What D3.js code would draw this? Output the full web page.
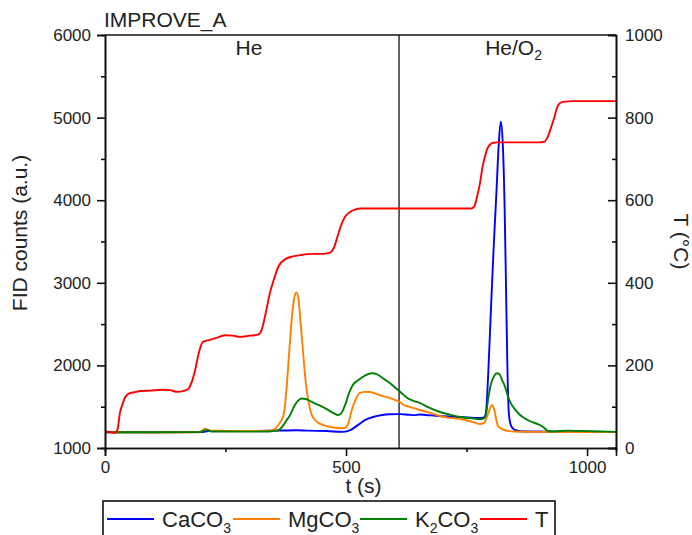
<!DOCTYPE html>
<html>
<head>
<meta charset="utf-8">
<script src="https://cdn.jsdelivr.net/npm/d3@7"></script>
<style>
  body { margin: 0; background: #fff; }
  svg { display: block; font-family: "Liberation Sans", Arial, sans-serif; }
</style>
</head>
<body>
<svg id="chart" width="692" height="535"></svg>
<script>
// ---------- data ----------
const seriesNames = ["CaCO3", "MgCO3", "K2CO3", "T"];
const seriesColors = ["#0000ff", "#ff8000", "#008000", "#ff0000"];

const caTime = [0,100,200,215,300,350,398,420,460,494,510,525,540,556,575,591,612,630,640,653,665,695,737,778,786,790,795,800,806,812,817,821,825,829,832,835,838,843,850,870,1060];
const caVals = [1190,1190,1192,1205,1205,1210,1215,1210,1205,1195,1220,1280,1340,1375,1400,1408,1410,1402,1398,1405,1400,1387,1375,1363,1370,1420,1900,2600,3400,4100,4700,4950,4700,3900,2900,1900,1400,1260,1220,1200,1195];

const mgTime = [0,100,195,202,207,212,220,300,330,346,356,362,367,372,377,382,388,393,397,401,406,411,416,421,425,429,437,445,453,465,478,490,498,505,510,514,520,529,540,550,565,575,591,602,612,620,630,653,675,695,715,737,760,778,786,792,798,803,808,812,815,822,830,850,900,1060];
const mgVals = [1190,1188,1190,1210,1235,1225,1210,1205,1205,1215,1250,1300,1345,1450,1750,2150,2600,2830,2880,2820,2500,2150,1823,1600,1480,1400,1330,1295,1278,1258,1245,1242,1245,1300,1420,1496,1590,1666,1680,1678,1650,1630,1605,1580,1557,1520,1500,1460,1425,1387,1365,1351,1320,1290,1300,1370,1470,1520,1450,1330,1270,1235,1215,1200,1195,1192];

const kTime = [0,100,195,205,212,220,300,340,357,368,376,384,392,400,408,418,430,445,460,475,483,490,498,506,514,525,540,554,565,575,590,602,612,620,627,640,653,670,695,715,737,760,778,786,790,795,800,807,813,818,824,830,836,842,850,861,880,902,912,919,930,960,990,1060];
const kVals = [1190,1190,1192,1210,1220,1200,1198,1200,1210,1260,1330,1400,1500,1570,1600,1590,1555,1515,1470,1420,1400,1420,1520,1660,1763,1820,1880,1905,1890,1850,1790,1730,1680,1640,1605,1570,1545,1495,1436,1405,1375,1360,1350,1360,1400,1600,1760,1870,1905,1895,1820,1740,1620,1540,1470,1400,1330,1278,1240,1206,1200,1210,1205,1195];

const tTime = [0,10,20,26,31,36,41,46,52,62,73,93,120,135,150,165,172,180,187,195,203,218,235,249,265,280,300,315,322,326,334,342,350,360,375,390,405,430,450,467,475,483,490,498,508,518,530,600,700,760,766,772,778,783,788,793,799,806,813,850,900,912,918,925,932,937,942,950,970,1060];
const tVals = [40,39,36,45,85,105,121,129,133,135,138,139,141,140,136,139,142,160,189,232,257,262,268,273,272,269,272,274,278,290,330,375,407,440,458,464,467,470,470,473,485,515,540,560,571,577,580,580,580,580,585,610,642,680,705,725,735,739,740,740,740,742,752,775,800,822,833,838,840,840];

const xTicks = [0, 500, 1000];
const xMinorTicks = [250, 750];
const yLeftTicks = [1000, 2000, 3000, 4000, 5000, 6000];
const yLeftMinor = [1500, 2500, 3500, 4500, 5500];
const yRightTicks = [0, 200, 400, 600, 800, 1000];
const yRightMinor = [100, 300, 500, 700, 900];
const switchTime = 610;

// ---------- layout ----------
const svg = d3.select("#chart");
const L = 105, R = 616, T = 35, B = 448;

const x = d3.scaleLinear().domain([0, 1060]).range([L, R]);
const yL = d3.scaleLinear().domain([1000, 6000]).range([B, T]);
const yR = d3.scaleLinear().domain([0, 1000]).range([B, T]);

svg.append("defs").append("clipPath").attr("id", "clip")
  .append("rect").attr("x", L).attr("y", T).attr("width", R - L).attr("height", B - T);

// vertical switch line
svg.append("line")
  .attr("x1", x(switchTime)).attr("x2", x(switchTime))
  .attr("y1", T).attr("y2", B)
  .attr("stroke", "#222").attr("stroke-width", 1.4);

// series
const mk = (times, vals) => times.map((t, i) => [t, vals[i]]);
const series = [
  {data: mk(caTime, caVals), y: yL},
  {data: mk(mgTime, mgVals), y: yL},
  {data: mk(kTime, kVals), y: yL},
  {data: mk(tTime, tVals), y: yR}
];
const g = svg.append("g").attr("clip-path", "url(#clip)");
series.forEach((s, i) => {
  const line = d3.line().x(d => x(d[0])).y(d => s.y(d[1])).curve(d3.curveMonotoneX);
  g.append("path").datum(s.data)
    .attr("d", line).attr("fill", "none")
    .attr("stroke", seriesColors[i]).attr("stroke-width", 1.9)
    .attr("stroke-linejoin", "round");
});

// axes
function styleAxis(sel) {
  sel.selectAll(".domain").attr("stroke", "#111").attr("stroke-width", 1.6);
  sel.selectAll(".tick line").attr("stroke", "#111").attr("stroke-width", 1.6);
  sel.selectAll("text").attr("font-size", 17).attr("fill", "#222")
     .attr("font-family", '"Liberation Sans", Arial, sans-serif');
}
// bottom
svg.append("g").attr("transform", `translate(0,${B})`)
  .call(d3.axisBottom(x).tickValues(xMinorTicks).tickSize(4).tickFormat(""))
  .call(styleAxis);
svg.append("g").attr("transform", `translate(0,${B})`)
  .call(d3.axisBottom(x).tickValues(xTicks).tickSize(8).tickPadding(5).tickFormat(d3.format("d")))
  .call(styleAxis);
// top (line only)
svg.append("line").attr("x1", L).attr("x2", R).attr("y1", T).attr("y2", T)
  .attr("stroke", "#111").attr("stroke-width", 1.6);
// left
svg.append("g").attr("transform", `translate(${L},0)`)
  .call(d3.axisLeft(yL).tickValues(yLeftMinor).tickSize(4).tickFormat(""))
  .call(styleAxis);
svg.append("g").attr("transform", `translate(${L},0)`)
  .call(d3.axisLeft(yL).tickValues(yLeftTicks).tickSize(8).tickPadding(6).tickFormat(d3.format("d")))
  .call(styleAxis);
// right (ticks inward)
svg.append("g").attr("transform", `translate(${R},0)`)
  .call(d3.axisRight(yR).tickValues(yRightMinor).tickSize(-4).tickFormat(""))
  .call(styleAxis);
svg.append("g").attr("transform", `translate(${R},0)`)
  .call(d3.axisRight(yR).tickValues(yRightTicks).tickSize(-8).tickPadding(9).tickFormat(d3.format("d")))
  .call(styleAxis);

// titles
const txt = (xx, yy, size) => svg.append("text").attr("x", xx).attr("y", yy)
  .attr("font-size", size).attr("fill", "#222");
txt(104, 27, 21).text("IMPROVE_A");
txt(x(switchTime / 2) - 3, 55, 21).attr("text-anchor", "middle").text("He");
{
  const t = txt(x((switchTime + 1060) / 2) + 6, 55, 21).attr("text-anchor", "middle");
  t.append("tspan").text("He/O");
  t.append("tspan").attr("font-size", 14).attr("dy", 5).text("2");
}
txt((L + R) / 2 + 3, 493, 21).attr("text-anchor", "middle").text("t (s)");
svg.append("text").attr("transform", `translate(27,233) rotate(-90)`)
  .attr("text-anchor", "middle").attr("font-size", 21).attr("fill", "#222")
  .text("FID counts (a.u.)");
svg.append("text").attr("transform", `translate(674,${(T + B) / 2}) rotate(90)`)
  .attr("text-anchor", "middle").attr("font-size", 21).attr("fill", "#222")
  .text("T (°C)");

// legend
const lg = svg.append("g");
lg.append("rect").attr("x", 103).attr("y", 501).attr("width", 452).attr("height", 50)
  .attr("fill", "#fff").attr("stroke", "#111").attr("stroke-width", 1.6);
const legendItems = [
  {x: 107, parts: [["Ca", 0], ["CO", 0], ["3", 1]]},
  {x: 233, parts: [["MgCO", 0], ["3", 1]]},
  {x: 360, parts: [["K", 0], ["2", 1], ["CO", 0], ["3", 1]]},
  {x: 480, parts: [["T", 0]]}
];
legendItems.forEach((it, i) => {
  lg.append("line").attr("x1", it.x).attr("x2", it.x + 47).attr("y1", 519).attr("y2", 519)
    .attr("stroke", seriesColors[i]).attr("stroke-width", 1.8);
  const t = lg.append("text").attr("x", it.x + 55).attr("y", 527)
    .attr("font-size", 22).attr("fill", "#222");
  let prevSub = 0;
  it.parts.forEach(([s, sub]) => {
    const sp = t.append("tspan").text(s);
    if (sub) sp.attr("font-size", 14).attr("dy", prevSub ? 0 : 6);
    else if (prevSub) sp.attr("dy", -6);
    prevSub = sub;
  });
});
</script>
</body>
</html>
